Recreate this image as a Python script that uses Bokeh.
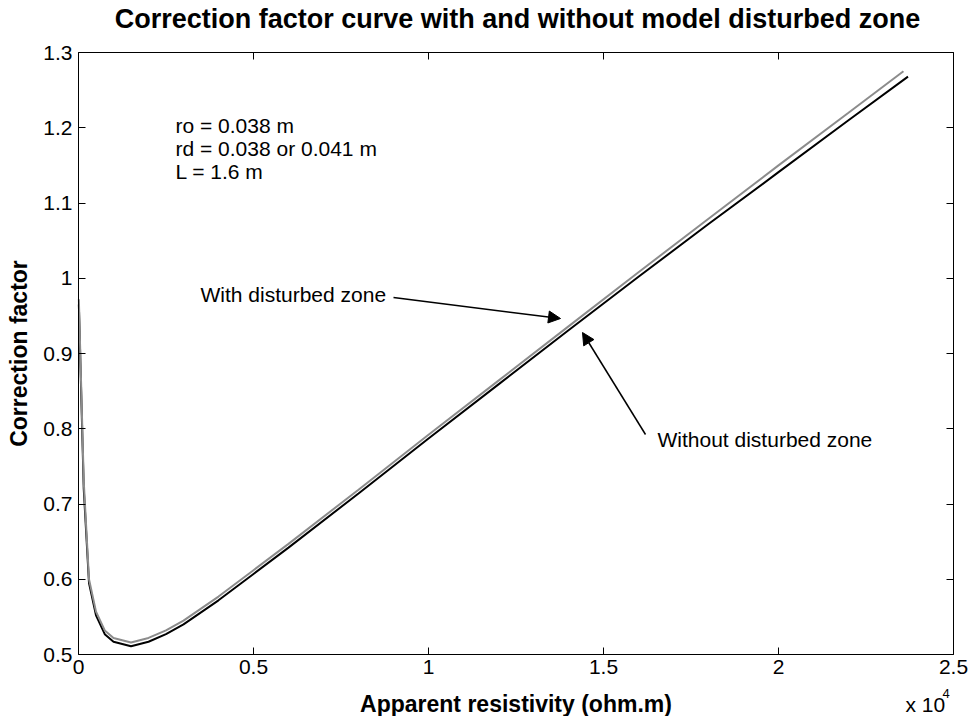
from bokeh.plotting import figure
from bokeh.models import (Range1d, LinearAxis, FixedTicker, Label, Arrow, NormalHead)
from bokeh.embed import file_html
from bokeh.resources import INLINE

# ---- data ----
res_without = [10, 150, 300, 500, 750, 1000, 1500, 2000, 2500, 3000, 4000, 5000, 6000,
               8000, 10000, 12000, 14000, 16000, 18000, 20000, 22000, 23700]
cf_without = [0.965, 0.72, 0.595, 0.552, 0.527, 0.517, 0.511, 0.517, 0.527, 0.54, 0.572,
              0.607, 0.642, 0.714, 0.787, 0.859, 0.931, 1.002, 1.072, 1.141, 1.210, 1.268]
res_with = [10, 150, 300, 500, 750, 1000, 1500, 2000, 2500, 3000, 4000, 5000, 6000,
            8000, 10000, 12000, 14000, 16000, 18000, 20000, 22000, 23570]
cf_with = [0.972, 0.73, 0.60, 0.557, 0.532, 0.522, 0.516, 0.522, 0.532, 0.545, 0.577,
           0.612, 0.647, 0.719, 0.792, 0.864, 0.936, 1.008, 1.079, 1.150, 1.220, 1.275]

x_ticks = [0, 5000, 10000, 15000, 20000, 25000]
x_tick_labels = ["0", "0.5", "1", "1.5", "2", "2.5"]
y_ticks = [0.5, 0.6, 0.7, 0.8, 0.9, 1.0, 1.1, 1.2, 1.3]
y_tick_labels = ["0.5", "0.6", "0.7", "0.8", "0.9", "1", "1.1", "1.2", "1.3"]

info_lines = ["ro = 0.038 m", "rd = 0.038 or 0.041 m", "L = 1.6 m"]
title_text = "Correction factor curve with and without model disturbed zone"
x_label = "Apparent resistivity (ohm.m)"
y_label = "Correction factor"

FONT = "Liberation Sans"
W, H = 970, 716
XMIN, XMAX, YMIN, YMAX = 0, 25000, 0.5, 1.3
# plot box in canvas pixels
BOX_L, BOX_R, BOX_T, BOX_B = 78, 953, 52, 654

kx = (BOX_R - BOX_L) / (XMAX - XMIN)
ky = (BOX_B - BOX_T) / (YMAX - YMIN)

def px_x(px):
    return XMIN + (px - BOX_L) / kx

def px_y(py):
    return YMIN + (BOX_B - py) / ky

# the frame fills the whole canvas; the axes are pinned to the plot box
p = figure(width=W, height=H, output_backend="svg", toolbar_location=None,
           x_range=Range1d(px_x(0), px_x(W)), y_range=Range1d(px_y(H), px_y(0)),
           min_border=0, min_border_left=0, min_border_right=0,
           min_border_top=0, min_border_bottom=0,
           background_fill_color="white", border_fill_color="white")
p.grid.visible = False
p.outline_line_color = None

def style_axis(ax, show_labels=True):
    ax.axis_line_color = "black"
    ax.axis_line_width = 1
    ax.major_tick_in = 7
    ax.major_tick_out = 0
    ax.minor_tick_line_color = None
    ax.major_tick_line_color = "black"
    ax.major_label_text_font = FONT
    ax.major_label_text_font_size = "21px" if show_labels else "0px"
    ax.major_label_text_color = "black" if show_labels else None
    ax.axis_label_text_font = FONT
    ax.axis_label_text_font_size = "23px"
    ax.axis_label_text_font_style = "bold"
    ax.axis_label_text_color = "black"

xa = p.xaxis[0]
xa.ticker = FixedTicker(ticks=x_ticks)
xa.major_label_overrides = dict(zip(x_ticks, x_tick_labels))
xa.axis_label = x_label
xa.fixed_location = YMIN
xa.bounds = (XMIN, XMAX)
xa.major_label_standoff = 5
xa.axis_label_standoff = 14
style_axis(xa)

ya = p.yaxis[0]
ya.ticker = FixedTicker(ticks=y_ticks)
ya.major_label_overrides = dict(zip(y_ticks, y_tick_labels))
ya.axis_label = y_label
ya.fixed_location = XMIN
ya.bounds = (YMIN, YMAX)
ya.major_label_standoff = 6
ya.axis_label_standoff = 8
style_axis(ya)

top = LinearAxis(ticker=FixedTicker(ticks=x_ticks), fixed_location=YMAX, bounds=(XMIN, XMAX))
style_axis(top, show_labels=False)
top.major_label_standoff = 0
p.add_layout(top, "above")
right = LinearAxis(ticker=FixedTicker(ticks=y_ticks), fixed_location=XMAX, bounds=(YMIN, YMAX))
style_axis(right, show_labels=False)
right.major_label_standoff = 0
p.add_layout(right, "right")

p.line(res_without, cf_without, line_color="black", line_width=2)
p.line(res_with, cf_with, line_color="#8c8c8c", line_width=2)

for i, t in enumerate(info_lines):
    p.add_layout(Label(x=px_x(175), y=px_y(125 + 23 * i), text=t, text_font=FONT,
                       text_font_size="21px", text_color="black",
                       text_baseline="middle", text_align="left"))

p.add_layout(Label(x=px_x(200), y=px_y(294), text="With disturbed zone", text_font=FONT,
                   text_font_size="21px", text_color="black", text_baseline="middle"))
p.add_layout(Label(x=px_x(657), y=px_y(439), text="Without disturbed zone", text_font=FONT,
                   text_font_size="21px", text_color="black", text_baseline="middle"))

p.add_layout(Arrow(x_start=px_x(393), y_start=px_y(297), x_end=px_x(560), y_end=px_y(318),
                   line_color="black", line_width=1.5,
                   end=NormalHead(size=12, fill_color="black", line_color="black")))
p.add_layout(Arrow(x_start=px_x(645), y_start=px_y(434), x_end=px_x(582), y_end=px_y(332),
                   line_color="black", line_width=1.5,
                   end=NormalHead(size=12, fill_color="black", line_color="black")))

# title
p.add_layout(Label(x=px_x(517), y=px_y(18), text=title_text, text_font=FONT,
                   text_font_size="27px", text_font_style="bold", text_color="black",
                   text_align="center", text_baseline="middle"))

# exponent note of the x axis
p.add_layout(Label(x=px_x(905), y=px_y(704), text="x 10", text_font=FONT,
                   text_font_size="21px", text_color="black", text_baseline="middle"))
p.add_layout(Label(x=px_x(942), y=px_y(693), text="4", text_font=FONT,
                   text_font_size="13px", text_color="black", text_baseline="middle"))

open("out.html", "w").write(file_html(p, INLINE))
